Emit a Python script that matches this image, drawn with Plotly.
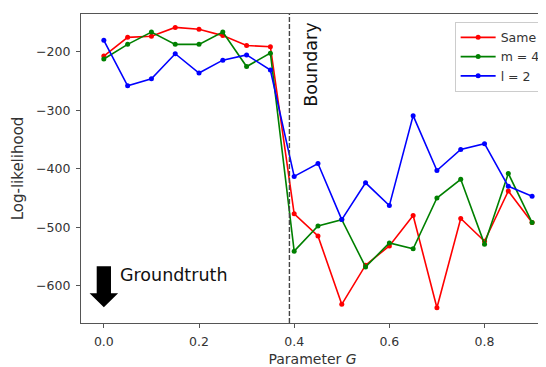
import plotly.graph_objects as go

x_vals = [0.0, 0.05, 0.1, 0.15, 0.2, 0.25, 0.3, 0.35, 0.4, 0.45, 0.5, 0.55, 0.6, 0.65, 0.7, 0.75, 0.8, 0.85, 0.9]
same_vals = [-207, -175, -173, -158, -161, -172, -189, -191, -477, -515, -632, -565, -532, -480, -638, -485, -524, -438, -492]
m4_vals = [-212, -187, -166, -187, -187, -166, -225, -202, -541, -498, -487, -568, -527, -537, -450, -418, -529, -408, -492]
l2_vals = [-180, -258, -246, -203, -236, -214, -205, -231, -413, -391, -487, -424, -463, -309, -403, -367, -357, -430, -447]

series_names = ["Same", "m = 4", "l = 2"]
series_colors = ["#ff0000", "#008000", "#0000ff"]

boundary_x = 0.39
groundtruth_x = 0.0
groundtruth_top = -567
groundtruth_head = -613
groundtruth_tip = -637

x_range = [-0.048, 0.925]
y_range = [-664, -135]
y_ticks = [-200, -300, -400, -500, -600]
x_ticks = [0.0, 0.2, 0.4, 0.6, 0.8]

FONT = "DejaVu Sans"

fig = go.Figure()
for name, vals, col in zip(series_names, [same_vals, m4_vals, l2_vals], series_colors):
    fig.add_trace(go.Scatter(
        x=x_vals, y=vals, name=name, mode="lines+markers",
        line=dict(color=col, width=1.6),
        marker=dict(color=col, size=5),
    ))

# boundary line
fig.add_shape(type="line", xref="x", yref="paper", x0=boundary_x, x1=boundary_x, y0=0, y1=1,
              line=dict(color="#444444", width=1.4, dash="5px,2px"))
fig.add_annotation(x=boundary_x + 0.045, y=-222, xref="x", yref="y", text="Boundary",
                   textangle=-90, showarrow=False, font=dict(family=FONT, size=17.5, color="#111111"))

# groundtruth arrow
sw = 0.015
hw = 0.03
path = (f"M {groundtruth_x - sw},{groundtruth_top} L {groundtruth_x + sw},{groundtruth_top} "
        f"L {groundtruth_x + sw},{groundtruth_head} L {groundtruth_x + hw},{groundtruth_head} "
        f"L {groundtruth_x},{groundtruth_tip} L {groundtruth_x - hw},{groundtruth_head} "
        f"L {groundtruth_x - sw},{groundtruth_head} Z")
fig.add_shape(type="path", xref="x", yref="y", path=path, fillcolor="black", line=dict(color="black", width=0))
fig.add_annotation(x=groundtruth_x + 0.029, y=-581, xref="x", yref="y", text="Groundtruth",
                   xanchor="left", showarrow=False, font=dict(family=FONT, size=17.5, color="#111111"))

fig.update_layout(
    width=538, height=359,
    margin=dict(l=73, r=0, t=6, b=44),
    paper_bgcolor="white", plot_bgcolor="white",
    font=dict(family=FONT, size=12.5, color="#333333"),
    legend=dict(x=0.807, y=0.975, xanchor="left", yanchor="top",
                bgcolor="rgba(255,255,255,0.9)", bordercolor="#cccccc", borderwidth=1,
                font=dict(family=FONT, size=12.5, color="#333333"),
                itemwidth=35, tracegroupgap=0),
    showlegend=True,
)
fig.update_xaxes(range=x_range, tickvals=x_ticks, ticktext=[f"{v:.1f}" for v in x_ticks],
                 showgrid=False, zeroline=False, showline=True, linecolor="#555555", linewidth=1.2,
                 mirror=True, ticks="outside", ticklen=4, tickcolor="#555555", ticklabelstandoff=3,
                 title=dict(text="Parameter <i>G</i>", standoff=8, font=dict(size=14)))
fig.update_yaxes(range=y_range, tickvals=y_ticks,
                 showgrid=False, zeroline=False, showline=True, linecolor="#555555", linewidth=1.2,
                 ticks="outside", ticklen=4, tickcolor="#555555", ticklabelstandoff=3,
                 title=dict(text="Log-likelihood", standoff=8, font=dict(size=15)))

fig.write_html("out.html")
